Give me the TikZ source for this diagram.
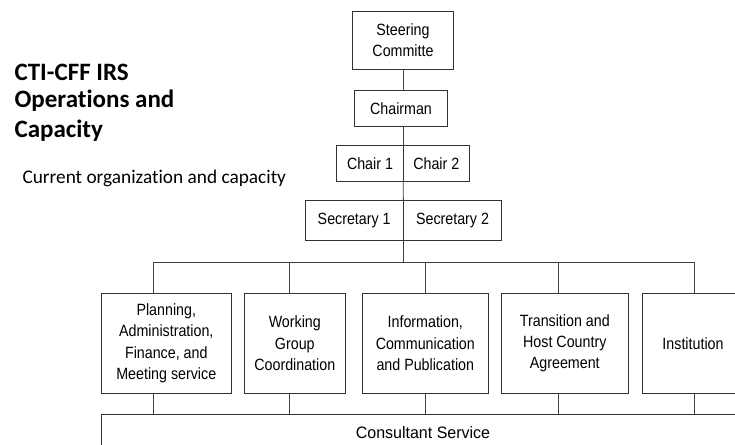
\documentclass[tikz,border=0pt]{standalone}
\usepackage{fontspec}
\usepackage{tikz}
\usetikzlibrary{calc}
\usetikzlibrary{positioning}
\newfontfamily\titlefont[Ligatures=NoCommon]{Carlito}
\newfontfamily\boxfont[FakeStretch=0.875]{Liberation Sans}
\newfontfamily\plainfont[FakeStretch=0.97]{Liberation Sans}

\begin{document}
\begin{tikzpicture}[x=1pt, y=-1pt,
        box/.style={rectangle, draw=black!80, line width=0.8pt, inner sep=0pt, outer sep=0pt,
            align=center, font=\boxfont\fontsize{16.3}{21.4}\selectfont},
        unit/.style={box, minimum height=100pt},
        link/.style={draw=black!75, line width=0.8pt}]
            \clip (0, 0) rectangle (735, 444);
            \node[anchor=base west, font=\titlefont\bfseries\fontsize{25}{28}\selectfont] (title1) at (11, 80.7) {CTI-CFF IRS};
            \node[anchor=base west, font=\titlefont\bfseries\fontsize{25}{28}\selectfont] (title2) at (11, 107.8) {Operations and};
            \node[anchor=base west, font=\titlefont\bfseries\fontsize{25}{28}\selectfont] (title3) at (11, 137.5) {Capacity};
            \node[anchor=base west, font=\titlefont\fontsize{19.3}{23}\selectfont] (subtitle) at (19, 183.3) {Current organization and capacity};

            \node[box, minimum width=100.4pt, minimum height=58pt] (steer) at (403, 40) {Steering\\Committe};
            \node[box, minimum width=93.7pt, minimum height=35.3pt] (chairman) at (401, 108.3) {Chairman};
            \node[box, minimum width=66.6pt, minimum height=36pt] (chair1) at (370, 163.7) {Chair 1};
            \node[box, minimum width=66pt, minimum height=36pt, right=0pt of chair1] (chair2) {Chair 2};
            \node[box, minimum width=98.3pt, minimum height=39.3pt] (sec1) at (354.2, 220.3) {Secretary 1};
            \node[box, minimum width=98.4pt, minimum height=39.3pt, right=0pt of sec1] (sec2) {Secretary 2};

            \node[unit, minimum width=129.3pt] (plan) at (166.3, 343.3) {Planning,\\Administration,\\Finance, and\\Meeting service};
            \node[unit, minimum width=101pt] (wgc) at (294.8, 343.3) {Working\\Group\\Coordination};
            \node[unit, minimum width=126pt] (info) at (425.3, 343.3) {Information,\\Communication\\and Publication};
            \node[unit, minimum width=127.1pt] (trans) at (564.8, 343.3) {Transition and\\Host Country\\Agreement};
            \node[unit, minimum width=100.6pt] (inst) at (693, 343.3) {Institution};
            \node[box, minimum width=642.6pt, minimum height=35.8pt, font=\plainfont\fontsize{16.5}{19}\selectfont] (consult) at (423, 432.2) {Consultant Service};

            \draw[link] (steer.south) -- (steer.south |- chairman.north);
            \draw[link] (chairman.south -| chair1.north east) -- (chair1.north east);
            \draw[link] (chair1.south east) -- (sec1.north east);
            \coordinate (busL) at (153, 262.5);
            \coordinate (busR) at (694.5, 262.5);
            \draw[link] (sec1.south east) -- (sec1.south east |- busL);
            \draw[link] (busL) -- (busR);
            \foreach \n/\x in {plan/153, wgc/289.5, info/425.5, trans/558.5, inst/694.5}
            {
                \coordinate (drop) at (\x, 262.5);
                \draw[link] (drop) -- (drop |- \n.north);
                \draw[link] (drop |- \n.south) -- (drop |- consult.north);
            }
        \end{tikzpicture}
\end{document}
